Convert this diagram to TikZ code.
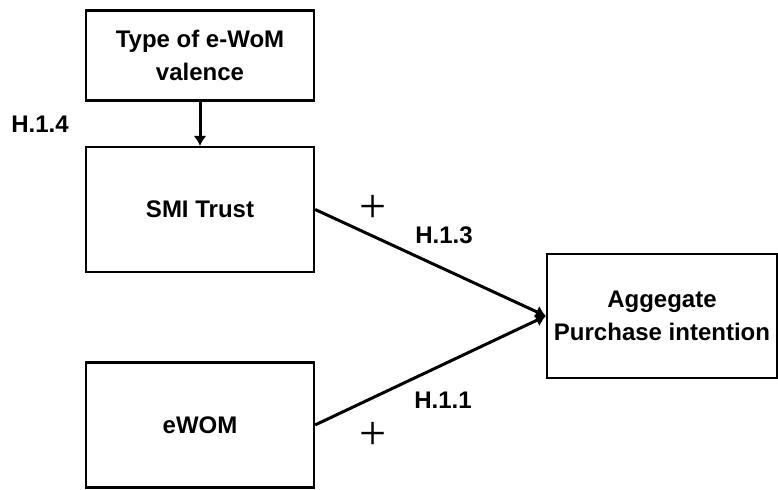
\documentclass[tikz,border=0pt]{standalone}
\usepackage{fontspec}
\setmainfont{Liberation Sans}
\newfontfamily\plusfont{Liberation Serif}
\usetikzlibrary{arrows.meta,positioning}

\begin{document}
\begin{tikzpicture}[x=0.5pt,y=-0.5pt,font=\fontsize{12}{16.5}\selectfont\bfseries,
 box/.style={draw=black,line width=1.2pt,minimum width=114pt,minimum height=62.5pt,align=center,inner sep=2pt},
 arr/.style={-{Latex[length=5pt,width=6.5pt]},line width=1.5pt},
 sign/.style={font=\plusfont\fontsize{24}{24}\selectfont,inner sep=0pt}]
\useasboundingbox (0,0) rectangle (778,489);
\node[box] (smi) at (200,209.5) {SMI Trust};
\node[box,minimum height=45pt,above=22pt of smi] (type) {Type of e-WoM\\valence};
\node[box,below=44pt of smi] (ewom) {eWOM};
\node[box,minimum width=115pt,minimum height=62pt] (agg) at (662,316) {Aggegate\\Purchase intention};
\node (h14) at (40,124) {H.1.4};
\node (h13) at (444,235) {H.1.3};
\node (h11) at (443,400) {H.1.1};
\node[sign] (p13) at (373,209) {+};
\node[sign] (p11) at (373,436) {+};
\draw[arr] (type)--(smi);
\draw[arr] (smi.east)--(agg.west);
\draw[arr] (ewom.east)--(agg.west);
\end{tikzpicture}
\end{document}
